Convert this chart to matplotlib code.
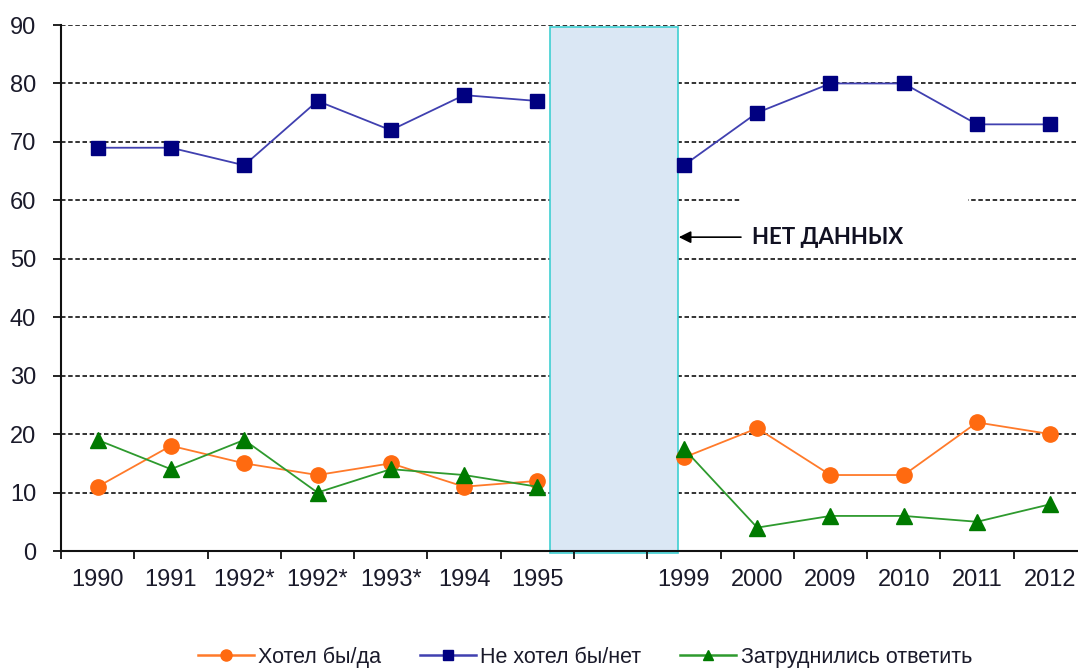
import matplotlib
matplotlib.use("Agg")
import matplotlib.pyplot as plt
from matplotlib.patches import Rectangle
from matplotlib.lines import Line2D
import numpy as np

categories = ["1990", "1991", "1992*", "1992*", "1993*", "1994", "1995", "",
              "1999", "2000", "2009", "2010", "2011", "2012"]
yes_vals = [11, 18, 15, 13, 15, 11, 12, np.nan, 16, 21, 13, 13, 22, 20]
no_vals = [69, 69, 66, 77, 72, 78, 77, np.nan, 66, 75, 80, 80, 73, 73]
hard_vals = [19, 14, 19, 10, 14, 13, 11, np.nan, 17.5, 4, 6, 6, 5, 8]
series_names = ["Хотел бы/да", "Не хотел бы/нет", "Затруднились ответить"]
yticks = [0, 10, 20, 30, 40, 50, 60, 70, 80, 90]

plt.rcParams['font.family'] = ['Liberation Sans', 'DejaVu Sans']

W, H = 1078, 668
fig = plt.figure(figsize=(W / 100, H / 100), dpi=100)
ax = fig.add_axes([61 / W, 1 - 551 / H, 1026 / W, 526 / H])

x = np.arange(len(categories))
ax.set_xlim(-0.5, len(categories) - 0.5)
ax.set_ylim(0, 90)

# grid
ax.set_yticks(yticks)
for yv in yticks[1:]:
    ax.axhline(yv, color='#111111', lw=1.2, ls=(0, (2.7, 1.6)), zorder=0.5)

# "no data" block
ax.add_patch(Rectangle((6.17, -0.3), 1.75, 89.9, facecolor='#dae7f4',
                       edgecolor='#3fcfd2', lw=1.2, zorder=1.5, clip_on=False))
# white label box covering grid
ax.add_patch(Rectangle((8.78, 51.2), 3.1, 9.6, facecolor='white',
                       edgecolor='none', zorder=1.2))

ax.plot(x, yes_vals, color='#ff7a2a', lw=1.3, marker='o', ms=11,
        mfc='#ff6a10', mec='#ff6a10', zorder=3)
ax.plot(x, no_vals, color='#4040b0', lw=1.3, marker='s', ms=10.5,
        mfc='#000080', mec='#000080', zorder=3)
ax.plot(x, hard_vals, color='#2e9a2e', lw=1.3, marker='^', ms=11,
        mfc='#007a00', mec='#007a00', zorder=3)

ax.annotate("НЕТ ДАННЫХ", xy=(7.93, 53.7), xytext=(8.93, 53.7),
            fontsize=16, fontweight='bold', family=['Lato', 'DejaVu Sans'],
            color='#111122', va='center', ha='left', zorder=4,
            arrowprops=dict(arrowstyle='-|>', color='black', lw=1.2,
                            mutation_scale=18, shrinkA=6, shrinkB=0))

# axes styling
for s in ['top', 'right']:
    ax.spines[s].set_visible(False)
for s in ['left', 'bottom']:
    ax.spines[s].set_linewidth(1.5)
    ax.spines[s].set_color('#111111')
    ax.spines[s].set_zorder(5)

ax.set_yticklabels([str(v) for v in yticks], fontsize=17, color='#1a1a2a')
ax.tick_params(axis='y', length=6, width=1.3, pad=12, color='#111111')

ax.set_xticks(x)
ax.set_xticklabels(categories, fontsize=17, color='#1a1a2a')
ax.set_xticks(np.arange(-0.5, len(categories) - 0.5 + 0.01, 1), minor=True)
ax.tick_params(axis='x', which='major', length=0, pad=13)
ax.tick_params(axis='x', which='minor', length=6, width=1.3, color='#111111')

handles = [
    Line2D([], [], color='#ff7a2a', lw=1.8, marker='o', ms=8, mfc='#ff6a10', mec='#ff6a10'),
    Line2D([], [], color='#4040b0', lw=1.8, marker='s', ms=7, mfc='#000080', mec='#000080'),
    Line2D([], [], color='#2e9a2e', lw=1.8, marker='^', ms=7, mfc='#007a00', mec='#007a00'),
]
fig.legend(handles, series_names, loc='center', bbox_to_anchor=(585 / W, 1 - 657 / H),
           ncol=3, frameon=False, fontsize=15.5, handlelength=2.6, handletextpad=0.2,
           columnspacing=1.8, labelcolor='#1a1a2a', borderpad=0.1)

fig.savefig("out.png", dpi=100)
